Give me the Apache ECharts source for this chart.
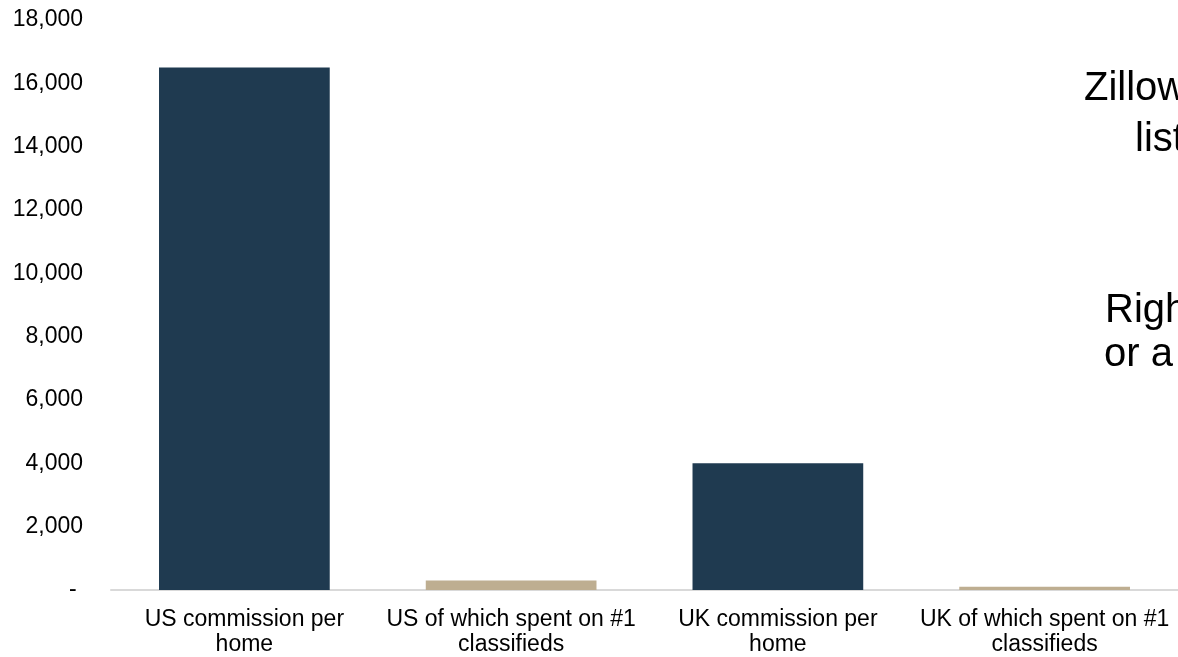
<!DOCTYPE html>
<html>
<head>
<meta charset="utf-8">
<script src="https://cdn.jsdelivr.net/npm/echarts@6/dist/echarts.min.js"></script>
<style>
html,body{margin:0;padding:0;background:#fff;}
#chart{width:1178px;height:657px;}
</style>
</head>
<body>
<div id="chart"></div>
<script>
var categories = ['US commission per\nhome', 'US of which spent on #1\nclassifieds', 'UK commission per\nhome', 'UK of which spent on #1\nclassifieds'];
var values = [16500, 300, 4000, 100];
var barColors = ['#1f3a50', '#beae91', '#1f3a50', '#beae91'];
var yTicks = {min: 0, max: 18000, interval: 2000};
var notes = ['Zillow', 'list', 'Righ', 'or a'];

var chart = echarts.init(document.getElementById('chart'));
var font = 'Liberation Sans, Arial, sans-serif';
chart.setOption({
  animation: false,
  grid: {left: 111, right: -5, top: 20, bottom: 67, containLabel: false},
  xAxis: {
    type: 'category',
    data: categories,
    axisLine: {lineStyle: {color: '#d9d9d9', width: 2}},
    axisTick: {show: false},
    axisLabel: {color: '#000', fontFamily: font, fontSize: 23, lineHeight: 25, margin: 17, interval: 0}
  },
  yAxis: {
    type: 'value',
    min: yTicks.min, max: yTicks.max, interval: yTicks.interval,
    axisLine: {show: false},
    axisTick: {show: false},
    splitLine: {show: false},
    axisLabel: {
      color: '#000', fontFamily: font, fontSize: 23, margin: 28,
      formatter: function (v) { return v === 0 ? '- ' : v.toLocaleString('en-US'); }
    }
  },
  series: [{
    type: 'bar',
    barCategoryGap: '36%',
    data: values.map(function (v, i) { return {value: v, itemStyle: {color: barColors[i]}}; })
  }],
  graphic: [
    {type: 'text', left: 1084, top: 69, style: {text: notes[0], font: '40px ' + font, fill: '#000'}},
    {type: 'text', left: 1135, top: 120, style: {text: notes[1], font: '40px ' + font, fill: '#000'}},
    {type: 'text', left: 1105, top: 291, style: {text: notes[2], font: '40px ' + font, fill: '#000'}},
    {type: 'text', left: 1104, top: 335, style: {text: notes[3], font: '40px ' + font, fill: '#000'}}
  ]
});
</script>
</body>
</html>
